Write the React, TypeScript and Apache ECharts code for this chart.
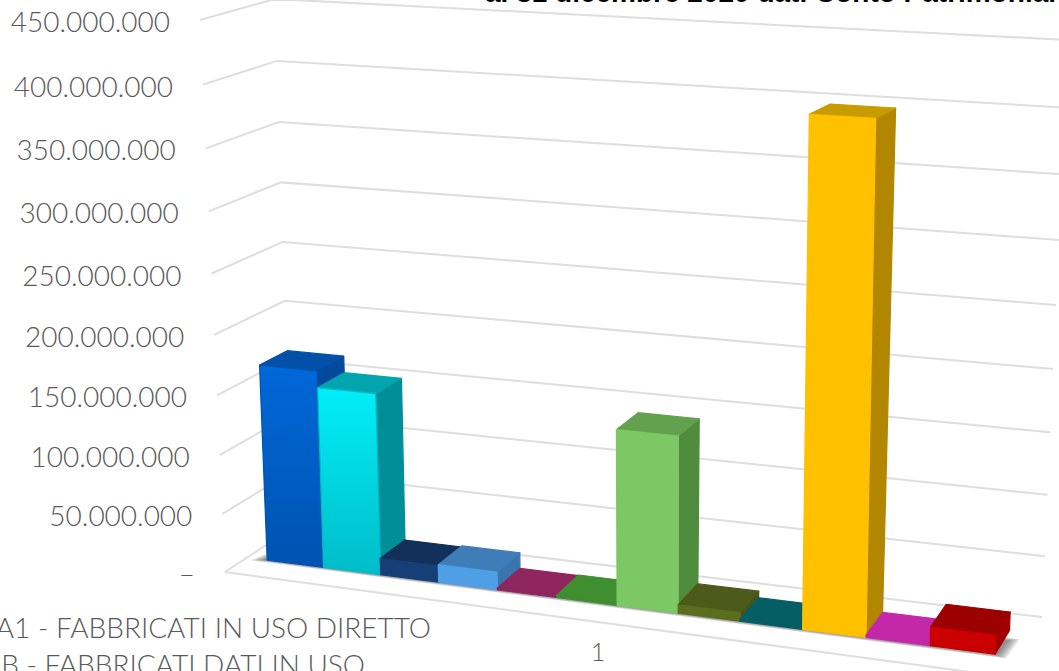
import React, { useEffect, useRef } from "react";
import * as echarts from "echarts";

// Amounts in euro, one bar per balance-sheet item, left to right.
const barValues = [167e6, 153e6, 14e6, 15e6, 1.5e6, 2e6, 144e6, 7e6, 1.5e6, 398e6, 2e6, 15e6];
const barCodes = ["1", "2", "3", "4", "5", "6", "7", "8", "9", "10", "11", "12"];
const frontColors = ["#0068d8", "#00eef8", "#163f78", "#4f9fe6", "#8f2660", "#3f8e30", "#7cc864", "#5a6e1e", "#055e63", "#ffc000", "#c428a8", "#cf0000"];
const frontColorsLow = ["#0053b0", "#00bcc8", "#163f78", "#4f9fe6", "#8f2660", "#3f8e30", "#7cc864", "#5a6e1e", "#055e63", "#ffc000", "#c428a8", "#c80000"];
const topColors = ["#0350a8", "#00a5ae", "#12305a", "#3f7db8", "#8f2660", "#3f8e30", "#63a14e", "#4d5a1a", "#055e63", "#c89b00", "#c428a8", "#9c0000"];
const sideColors = ["#034a9c", "#008e98", "#0f2b50", "#3a76ac", "#7a2050", "#357a28", "#4f8c3c", "#45521a", "#044e52", "#b38600", "#a82090", "#a00000"];
const valueTicks = [0, 50e6, 100e6, 150e6, 200e6, 250e6, 300e6, 350e6, 400e6, 450e6];
const tickLabels = ["–", "50.000.000", "100.000.000", "150.000.000", "200.000.000", "250.000.000", "300.000.000", "350.000.000", "400.000.000", "450.000.000"];
const legendLines = ["A1 - FABBRICATI IN USO DIRETTO", "B - FABBRICATI DATI IN USO"];
const titleText = "al 31 dicembre 2020 dati Conto Patrimoniale";
const categoryLabel = "1";
const shadowLayers = [7, 6, 5, 4, 3, 2, 1, 0];

const GRID = { left: 100, top: 100, width: 800, height: 400 };
const LABEL_FONT = "Lato, 'Open Sans', sans-serif";
const TEXT_GREY = "#595959";

// Corners of the 3D box on screen: [back-left, back-right, front-left, front-right].
const floorBox = [[292, 528], [1042, 617], [225, 572], [1007, 677]];
const ceilingBox = [[275, -1], [1068, 40], [200, 20], [1023, 62]];
const BAR_FRONT = 0.67;
const BAR_BACK = 0.27;

const mix = (a: number, b: number, t: number) => a + (b - a) * t;

// Trilinear placement inside the box; u runs left to right, w back to front, h bottom to top.
function place(u: number, w: number, h: number): [number, number] {
  const eased = h - 0.06 * h * (1 - h);
  const at = (box: number[][], i: number) =>
    mix(mix(box[0][i], box[1][i], u), mix(box[2][i], box[3][i], u), w);
  return [
    mix(at(floorBox, 0), at(ceilingBox, 0), eased),
    mix(at(floorBox, 1), at(ceilingBox, 1), eased),
  ];
}

const heightOf = (pixelY: number) => (GRID.top + GRID.height - pixelY) / GRID.height;

// Lateral position of a bar edge, narrower at the far left as the view recedes.
function laneOf(pixelX: number) {
  const t = (pixelX - GRID.left) / GRID.width;
  return mix(0.026, 0.9696, t - 0.077 * t * (1 - t));
}

function renderBar(_params: any, api: any) {
  const i = api.value(0);
  const base = api.coord([i, 0]);
  const top = api.coord([i, api.value(1)]);
  const band = api.size([1, 0])[0];
  const u0 = laneOf(base[0] - band / 2);
  const u1 = laneOf(base[0] + band / 2);
  const h = heightOf(top[1]);
  const face = (points: number[][], fill: any, stroke: string) => ({
    type: "polygon",
    shape: { points },
    style: { fill, stroke, lineWidth: 1.2, lineJoin: "round" },
  });
  const front = new echarts.graphic.LinearGradient(0, 0, 0, 1, [
    { offset: 0, color: frontColors[i] },
    { offset: 1, color: frontColorsLow[i] },
  ]);
  return {
    type: "group",
    children: [
      face([place(u1, BAR_FRONT, 0), place(u1, BAR_BACK, 0), place(u1, BAR_BACK, h), place(u1, BAR_FRONT, h)], sideColors[i], sideColors[i]),
      face([place(u0, BAR_FRONT, h), place(u0, BAR_BACK, h), place(u1, BAR_BACK, h), place(u1, BAR_FRONT, h)], topColors[i], topColors[i]),
      face([place(u0, BAR_FRONT, 0), place(u1, BAR_FRONT, 0), place(u1, BAR_FRONT, h), place(u0, BAR_FRONT, h)], front, frontColorsLow[i]),
    ],
  };
}

function renderGridLine(params: any, api: any) {
  const h = heightOf(api.coord([0, api.value(1)])[1]);
  const index = params.dataIndex;
  const left = place(0, 1, h);
  const children: any[] = [
    {
      type: "polyline",
      shape: { points: [left, place(0, 0, h), place(1, 0, h)] },
      style: { fill: "none", stroke: "#dedede", lineWidth: 2 },
    },
    {
      type: "text",
      style: {
        text: tickLabels[index],
        x: left[0] - 30,
        y: left[1] + 1,
        align: "right",
        verticalAlign: "middle",
        fill: TEXT_GREY,
        fontSize: 28,
        fontFamily: LABEL_FONT,
        fontWeight: 300,
      },
    },
  ];
  if (index === 0) {
    const end = place(1, 1, 0);
    children.push({
      type: "line",
      shape: { x1: left[0], y1: left[1], x2: end[0], y2: end[1] },
      style: { stroke: "#dedede", lineWidth: 2 },
    });
  }
  return { type: "group", children };
}

// Soft contact shadow on the floor: a stack of faint quads, each a little wider than the next.
function renderFloorShadow(params: any) {
  const k = shadowLayers[params.dataIndex];
  const du = k * 0.002;
  const dw = k * 0.006;
  return {
    type: "polygon",
    shape: {
      points: [
        place(0.022 - du, 0.675 + dw, 0),
        place(0.972 + du, 0.675 + dw, 0),
        place(0.975 + du, BAR_BACK + 0.16 - dw, 0),
        place(0.03 - du, 0.55 - dw, 0),
      ],
    },
    style: { fill: "rgba(70,70,70,0.11)" },
  };
}

export default function App() {
  const ref = useRef<HTMLDivElement>(null);
  useEffect(() => {
    const chart = echarts.init(ref.current!, undefined, { renderer: "svg" });
    chart.setOption({
      animation: false,
      backgroundColor: "#ffffff",
      grid: { ...GRID },
      xAxis: { type: "category", data: barCodes, show: false },
      yAxis: { type: "value", min: 0, max: 450e6, interval: 50e6, show: false },
      series: [
        { type: "custom", clip: false, silent: true, data: valueTicks.map((v) => [0, v]), renderItem: renderGridLine },
        { type: "custom", clip: false, silent: true, data: shadowLayers.map((k) => [0, k]), renderItem: renderFloorShadow },
        { type: "custom", clip: false, silent: true, data: barValues.map((v, i) => [i, v]), renderItem: renderBar },
      ],
      graphic: [
        {
          type: "text",
          x: 485,
          y: 6,
          style: { text: titleText, fill: "#000000", fontSize: 28, fontWeight: "bold", fontFamily: "'Liberation Sans', Arial, sans-serif", verticalAlign: "bottom" },
        },
        {
          type: "text",
          x: 431,
          y: 627,
          style: { text: legendLines[0], fill: TEXT_GREY, fontSize: 28, fontFamily: LABEL_FONT, fontWeight: 300, align: "right", verticalAlign: "middle" },
        },
        {
          type: "text",
          x: 365,
          y: 664,
          style: { text: legendLines[1], fill: TEXT_GREY, fontSize: 28, fontFamily: LABEL_FONT, fontWeight: 300, align: "right", verticalAlign: "middle" },
        },
        {
          type: "text",
          x: 598,
          y: 651,
          style: { text: categoryLabel, fill: TEXT_GREY, fontSize: 25, fontFamily: LABEL_FONT, fontWeight: 300, align: "center", verticalAlign: "middle" },
        },
      ],
    });
    return () => chart.dispose();
  }, []);
  return (
    <div
      ref={ref}
      style={{ position: "fixed", left: 0, top: 0, width: 1059, height: 671, overflow: "hidden" }}
    />
  );
}
